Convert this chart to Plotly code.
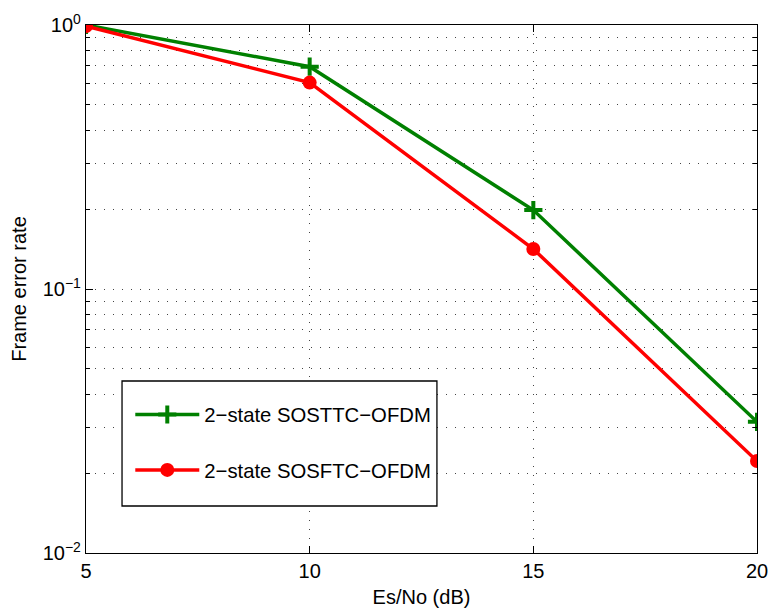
import numpy as np
import plotly.graph_objects as go

# Data
esno_db = [5, 10, 15, 20]
fer_sosttc = [1.0, 0.695, 0.199, 0.0314]
fer_sosftc = [0.99, 0.605, 0.1417, 0.0223]
name_sosttc = "2\u2212state SOSTTC\u2212OFDM"
name_sosftc = "2\u2212state SOSFTC\u2212OFDM"
x_ticks = [5, 10, 15, 20]
y_ticks = [0.01, 0.1, 1]
y_ticktext = ["10<sup>\u22122</sup>", "10<sup>\u22121</sup>", "10<sup>0</sup>"]
y_minor = [m * 10.0 ** k for k in (-2, -1) for m in range(2, 10)]

FONT = "Liberation Sans, Arial, Helvetica, sans-serif"

fig = go.Figure()
fig.add_trace(go.Scatter(
    x=esno_db, y=fer_sosttc, name=name_sosttc, mode="lines+markers",
    line=dict(color="#008000", width=3.5),
    marker=dict(symbol="cross-thin", size=13, line=dict(color="#008000", width=4)),
    legendgroup="a",
))
fig.add_trace(go.Scatter(
    x=esno_db, y=fer_sosftc, name=name_sosftc, mode="lines+markers",
    line=dict(color="#ff0000", width=3.5),
    marker=dict(symbol="circle", size=14, color="#ff0000"),
    legendgroup="b",
))

# legend frame
fig.add_shape(type="rect", xref="paper", yref="paper",
              x0=0.0537, x1=0.523, y0=0.089, y1=0.3258,
              line=dict(color="black", width=1.3), fillcolor="white", layer="above")

grid_dash = "1px,8px"
fig.update_layout(
    width=769, height=608,
    margin=dict(l=86, r=12, t=25, b=55, autoexpand=False),
    paper_bgcolor="white", plot_bgcolor="white",
    font=dict(family=FONT, size=20, color="black"),
    showlegend=True,
    legend=dict(
        x=0.066, y=0.2996, xanchor="left", yanchor="top",
        bgcolor="rgba(0,0,0,0)", borderwidth=0,
        font=dict(size=20.3, family=FONT, color="black"),
        itemwidth=64, traceorder="grouped", tracegroupgap=26,
    ),
    xaxis=dict(
        range=[5, 20], tickvals=x_ticks, ticks="inside", ticklen=7,
        tickcolor="black", showline=True, linecolor="black", linewidth=1.3,
        mirror="ticks", showgrid=True, gridcolor="#444", gridwidth=1,
        griddash=grid_dash, zeroline=False, automargin=False,
        title=dict(text="Es/No (dB)", font=dict(size=20), standoff=10),
        tickfont=dict(size=20),
    ),
    yaxis=dict(
        type="log", range=[-2, 0], tickvals=y_ticks, ticktext=y_ticktext,
        ticks="inside", ticklen=7, tickcolor="black", showline=True,
        linecolor="black", linewidth=1.3, mirror="ticks",
        showgrid=True, gridcolor="#444", gridwidth=1, griddash=grid_dash,
        zeroline=False, automargin=False,
        minor=dict(tickmode="array", tickvals=y_minor, ticks="inside", ticklen=4,
                   tickcolor="black", showgrid=True, gridcolor="#444",
                   gridwidth=1, griddash=grid_dash),
        title=dict(text="Frame error rate", font=dict(size=20), standoff=10),
        tickfont=dict(size=20),
    ),
)

fig.write_html("out.html")
